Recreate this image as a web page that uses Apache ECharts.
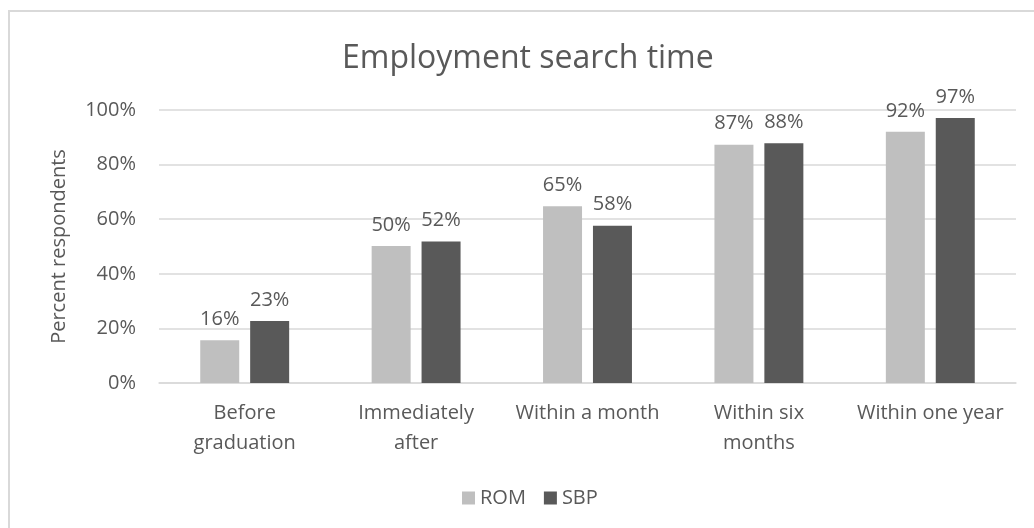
<!DOCTYPE html>
<html>
<head>
<meta charset="utf-8">
<script src="https://cdn.jsdelivr.net/npm/echarts@6/dist/echarts.min.js"></script>
<style>
  html, body { margin: 0; padding: 0; background: #fff; }
  #searchChart { width: 1034px; height: 528px; }
</style>
</head>
<body>
<div id="searchChart"></div>
<script>
  var categories = ['Before\ngraduation', 'Immediately\nafter', 'Within a month', 'Within six\nmonths', 'Within one year'];
  var romValues = [15.7, 50.2, 64.7, 87.3, 92.0];
  var sbpValues = [22.7, 51.8, 57.6, 87.8, 97.1];
  var yTicks = [0, 20, 40, 60, 80, 100];

  var textColor = '#595959';
  var fontFamily = '"Open Sans", "Noto Sans", sans-serif';

  var chart = echarts.init(document.getElementById('searchChart'));

  function valueLabel() {
    return {
      show: true,
      position: 'top',
      distance: 11,
      color: textColor,
      fontSize: 20,
      fontFamily: fontFamily,
      formatter: function (p) {
        return Math.round(p.value) + '%';
      }
    };
  }

  var option = {
    backgroundColor: '#fff',
    animation: false,
    graphic: [{
      type: 'rect',
      shape: { x: 9, y: 11, width: 1100, height: 600 },
      style: { fill: 'none', stroke: '#d9d9d9', lineWidth: 2 },
      silent: true
    }],
    title: {
      text: 'Employment search time',
      left: 337,
      top: 38,
      textStyle: {
        color: textColor,
        fontSize: 32,
        fontWeight: 'normal',
        fontFamily: fontFamily
      }
    },
    legend: {
      data: ['ROM', 'SBP'],
      left: 457,
      top: 483,
      itemWidth: 13,
      itemHeight: 13,
      itemGap: 18,
      icon: 'rect',
      textStyle: {
        color: textColor,
        fontSize: 20,
        fontFamily: fontFamily
      }
    },
    grid: {
      left: 159,
      right: 18,
      top: 110,
      bottom: 145
    },
    xAxis: {
      type: 'category',
      data: categories,
      axisTick: { show: false },
      axisLine: { lineStyle: { color: '#d9d9d9', width: 1.5 } },
      axisLabel: {
        color: textColor,
        fontSize: 20,
        lineHeight: 30,
        margin: 15,
        fontFamily: fontFamily,
        interval: 0
      }
    },
    yAxis: {
      type: 'value',
      min: yTicks[0],
      max: yTicks[yTicks.length - 1],
      interval: yTicks[1] - yTicks[0],
      name: 'Percent respondents',
      nameLocation: 'middle',
      nameGap: 90,
      nameTextStyle: {
        color: textColor,
        fontSize: 20,
        fontFamily: fontFamily
      },
      axisLine: { show: false },
      axisTick: { show: false },
      splitLine: { lineStyle: { color: '#d9d9d9', width: 1.5 } },
      axisLabel: {
        color: textColor,
        fontSize: 20,
        margin: 23,
        fontFamily: fontFamily,
        formatter: '{value}%'
      }
    },
    series: [{
      name: 'ROM',
      type: 'bar',
      barWidth: 39,
      barGap: '28%',
      data: romValues,
      itemStyle: { color: '#bfbfbf' },
      label: valueLabel()
    }, {
      name: 'SBP',
      type: 'bar',
      barWidth: 39,
      barGap: '28%',
      data: sbpValues,
      itemStyle: { color: '#595959' },
      label: valueLabel()
    }]
  };

  chart.setOption(option);
</script>
</body>
</html>
